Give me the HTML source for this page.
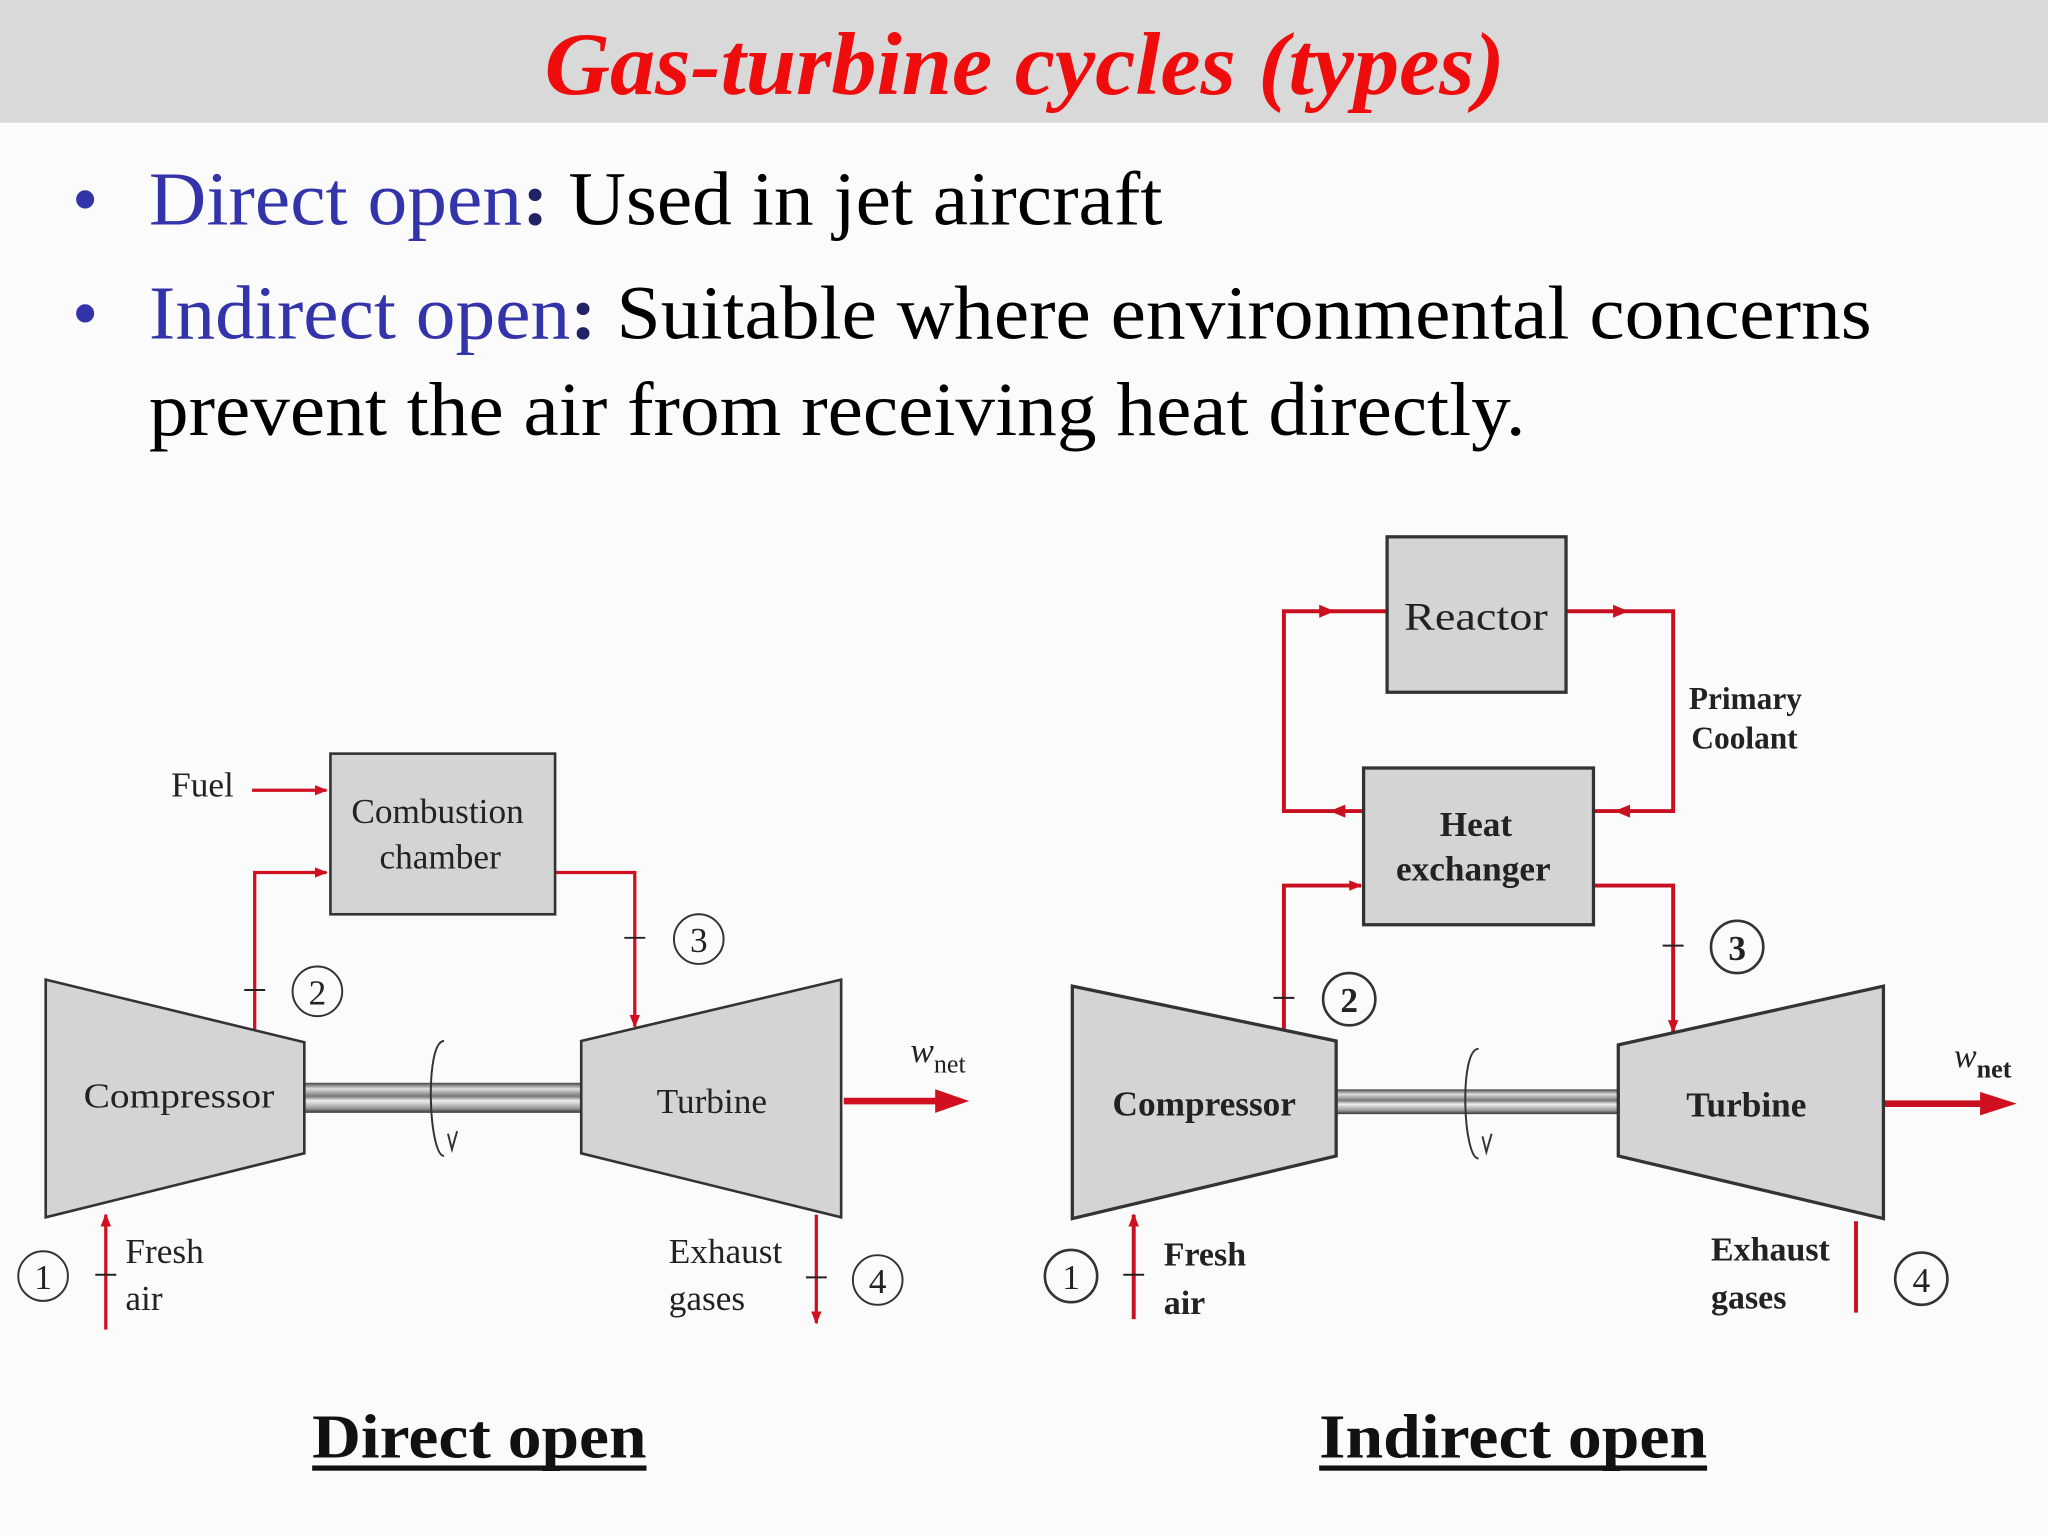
<!DOCTYPE html>
<html><head><meta charset="utf-8"><style>
html,body{margin:0;padding:0;background:#fbfbfb;}
svg{display:block;}
</style></head><body>
<svg width="2048" height="1536" viewBox="0 0 1568 1176" xmlns="http://www.w3.org/2000/svg" font-family="'Liberation Serif', serif">
<defs>
<linearGradient id="sh" x1="0" y1="0" x2="0" y2="1">
<stop offset="0" stop-color="#444"/><stop offset="0.2" stop-color="#ddd"/><stop offset="0.45" stop-color="#777"/><stop offset="0.6" stop-color="#eee"/><stop offset="0.85" stop-color="#999"/><stop offset="1" stop-color="#333"/>
</linearGradient>
<marker id="ar" markerWidth="10" markerHeight="8" refX="9" refY="4" orient="auto" markerUnits="userSpaceOnUse"><path d="M0,0 L10,4 L0,8 Z" fill="#d01020"/></marker>
</defs>
<rect width="1568" height="1176" fill="#fbfbfb"/>
<rect width="1568" height="94" fill="#d9d9d9"/>
<text x="417" y="72" textLength="735" lengthAdjust="spacingAndGlyphs" font-size="68" font-weight="bold" font-style="italic" fill="#ee0c0c">Gas-turbine cycles (types)</text>
<g font-size="58">
<text x="55" y="172" fill="#3333aa">•</text>
<text x="114" y="172" textLength="776" lengthAdjust="spacingAndGlyphs"><tspan fill="#3333aa">Direct open</tspan><tspan fill="#222266" font-weight="bold">:</tspan> Used in jet aircraft</text>
<text x="55" y="259" fill="#3333aa">•</text>
<text x="114" y="259" textLength="1319" lengthAdjust="spacingAndGlyphs"><tspan fill="#3333aa">Indirect open</tspan><tspan fill="#222266" font-weight="bold">:</tspan> Suitable where environmental concerns</text>
<text x="114" y="333" textLength="1054" lengthAdjust="spacingAndGlyphs">prevent the air from receiving heat directly.</text>
</g>

<!-- LEFT -->
<g stroke="#d01020" stroke-width="2.5" fill="none">
<path d="M195,788 V668 H250" marker-end="url(#ar)"/>
<path d="M193,605 H250" marker-end="url(#ar)"/>
<path d="M425,668 H486 V786" marker-end="url(#ar)"/>
<path d="M81,1018 V930" marker-end="url(#ar)"/>
<path d="M625,930 V1013" marker-end="url(#ar)"/>
<path d="M646,843 H720" stroke-width="5"/>
</g>
<path d="M716,834 L742,843 L716,852 Z" fill="#d01020"/>
<g stroke="#222" stroke-width="1.5">
<path d="M187,758 H203 M478,718 H494 M73,976 H89 M617,978 H633"/>
</g>
<rect x="233" y="829" width="212" height="23" fill="url(#sh)"/>
<g fill="#d4d4d4" stroke="#333" stroke-width="2">
<polygon points="35,750 233,798 233,883 35,932"/>
<polygon points="445,797 644,750 644,932 445,883"/>
<rect x="253" y="577" width="172" height="123"/>
</g>
<path d="M340,797 C325,797 328,885 340,885" stroke="#333" stroke-width="1.5" fill="none"/>
<path d="M343,868 L346,880 L350,866" stroke="#333" stroke-width="1.5" fill="none"/>
<g fill="none" stroke="#333" stroke-width="1.5">
<circle cx="33" cy="977" r="19"/><circle cx="243" cy="759" r="19"/><circle cx="535" cy="719" r="19"/><circle cx="672" cy="980" r="19"/>
</g>
<g font-size="27" fill="#222" text-anchor="middle">
<text x="33" y="987">1</text><text x="243" y="769">2</text><text x="535" y="729">3</text><text x="672" y="990">4</text>
<text x="137" y="848" textLength="146" lengthAdjust="spacingAndGlyphs">Compressor</text>
<text x="545" y="852">Turbine</text>
<text x="155" y="610">Fuel</text>
<text x="335" y="630">Combustion</text>
<text x="337" y="665">chamber</text>
</g>
<g font-size="27" fill="#222">
<text x="96" y="967">Fresh</text><text x="96" y="1003">air</text>
<text x="512" y="967">Exhaust</text><text x="512" y="1003">gases</text>
<text x="697" y="813" font-style="italic">w<tspan font-style="normal" font-size="20" dy="8">net</tspan></text>
</g>

<!-- RIGHT -->
<g stroke="#c81020" stroke-width="3" fill="none">
<path d="M1044,621 H983 V468 H1062"/>
<path d="M1199,468 H1281 V621 H1220"/>
<path d="M983,790 V678 H1042" marker-end="url(#ar)"/>
<path d="M1220,678 H1281 V790" marker-end="url(#ar)"/>
<path d="M868,1010 V930" marker-end="url(#ar)"/>
<path d="M1421,935 V1005"/>
<path d="M1442,845 H1520" stroke-width="5"/>
</g>
<path d="M1516,836 L1544,845 L1516,854 Z" fill="#d01020"/>
<g fill="#c81020">
<path d="M1010,463 L1022,468 L1010,473 Z"/><path d="M1235,463 L1247,468 L1235,473 Z"/>
<path d="M1248,616 L1236,621 L1248,626 Z"/><path d="M1030,616 L1018,621 L1030,626 Z"/>
</g>
<g stroke="#222" stroke-width="1.5">
<path d="M975,764 H991 M1273,724 H1289 M860,976 H876"/>
</g>
<rect x="1023" y="834" width="216" height="19" fill="url(#sh)"/>
<g fill="#d4d4d4" stroke="#333" stroke-width="2.5">
<polygon points="821,755 1023,797 1023,885 821,933"/>
<polygon points="1239,800 1442,755 1442,933 1239,885"/>
<rect x="1062" y="411" width="137" height="119"/>
<rect x="1044" y="588" width="176" height="120"/>
</g>
<path d="M1132,803 C1117,803 1120,887 1132,887" stroke="#333" stroke-width="1.5" fill="none"/>
<path d="M1135,870 L1138,882 L1142,868" stroke="#333" stroke-width="1.5" fill="none"/>
<g fill="none" stroke="#333" stroke-width="2">
<circle cx="820" cy="977" r="20"/><circle cx="1033" cy="765" r="20"/><circle cx="1330" cy="725" r="20"/><circle cx="1471" cy="979" r="20"/>
</g>
<g font-size="27" fill="#222" text-anchor="middle" font-weight="bold">
<text x="820" y="987" font-weight="normal">1</text><text x="1033" y="775">2</text><text x="1330" y="735">3</text><text x="1471" y="989" font-weight="normal">4</text>
<text x="922" y="854">Compressor</text>
<text x="1337" y="855">Turbine</text>
<text x="1130" y="482" font-weight="normal" font-size="30" textLength="110" lengthAdjust="spacingAndGlyphs">Reactor</text>
<text x="1130" y="640">Heat</text>
<text x="1128" y="674">exchanger</text>
</g>
<g font-size="26" fill="#222" font-weight="bold">
<text x="891" y="969">Fresh</text><text x="891" y="1006">air</text>
<text x="1310" y="965">Exhaust</text><text x="1310" y="1002">gases</text>
<text x="1293" y="543" font-size="24">Primary</text><text x="1295" y="573" font-size="24">Coolant</text>
<text x="1496" y="817" font-style="italic" font-weight="normal">w<tspan font-style="normal" font-weight="bold" font-size="20" dy="8">net</tspan></text>
</g>

<g font-size="48" font-weight="bold" fill="#111">
<text x="239" y="1116" textLength="256" lengthAdjust="spacingAndGlyphs">Direct open</text>
<text x="1010" y="1116" textLength="297" lengthAdjust="spacingAndGlyphs">Indirect open</text>
</g>
<rect x="239" y="1122" width="256" height="4" fill="#111"/>
<rect x="1010" y="1122" width="297" height="4" fill="#111"/>
</svg>
</body></html>
